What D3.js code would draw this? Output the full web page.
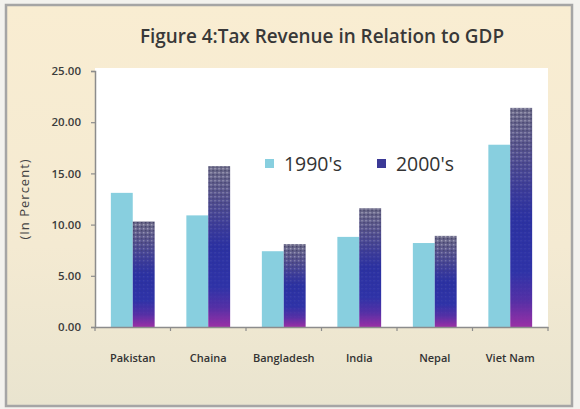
<!DOCTYPE html>
<html>
<head>
<meta charset="utf-8">
<script src="https://cdn.jsdelivr.net/npm/d3@7"></script>
<style>
  html, body { margin: 0; padding: 0; background: #f3f2ee; }
  svg { display: block; }
</style>
</head>
<body>
<svg id="chart" width="580" height="409"></svg>
<script>
// ---- data ----
const categories = ["Pakistan", "Chaina", "Bangladesh", "India", "Nepal", "Viet Nam"];
const seriesNames = ["1990's", "2000's"];
const values1990s = [13.1, 10.9, 7.4, 8.8, 8.2, 17.8];
const values2000s = [10.3, 15.7, 8.1, 11.6, 8.9, 21.4];
const yTicks = [0, 5, 10, 15, 20, 25];
const titleText = "Figure 4:Tax Revenue in Relation to GDP";
const yTitle = "(In Percent)";

const svg = d3.select("#chart");
const defs = svg.append("defs");

// background gradient
const bg = defs.append("linearGradient").attr("id", "bgGrad").attr("x1", 0).attr("y1", 0).attr("x2", 0).attr("y2", 1);
bg.append("stop").attr("offset", 0).attr("stop-color", "#f9edd2");
bg.append("stop").attr("offset", 0.6).attr("stop-color", "#f4ead2");
bg.append("stop").attr("offset", 1).attr("stop-color", "#e9e4cf");

// 2000's bar gradient
const g2 = defs.append("linearGradient").attr("id", "bar2Grad").attr("x1", 0).attr("y1", 0).attr("x2", 0).attr("y2", 1);
[[0, "#6e6c8a"], [0.18, "#56528e"], [0.38, "#3a3a9a"], [0.5, "#2b31a2"], [0.75, "#2f33a8"], [0.88, "#5530a6"], [1, "#9a30a6"]]
  .forEach(([o, c]) => g2.append("stop").attr("offset", o).attr("stop-color", c));

// dotted texture pattern
const pat = defs.append("pattern").attr("id", "dots").attr("patternUnits", "userSpaceOnUse")
  .attr("width", 4).attr("height", 4);
pat.append("rect").attr("x", 0).attr("y", 0).attr("width", 1.5).attr("height", 1.5).attr("fill", "#c0c0d0");
pat.append("rect").attr("x", 2).attr("y", 2).attr("width", 1.5).attr("height", 1.5).attr("fill", "#34345a");

const mg = defs.append("linearGradient").attr("id", "maskGrad").attr("x1", 0).attr("y1", 0).attr("x2", 0).attr("y2", 1);
mg.append("stop").attr("offset", 0).attr("stop-color", "#fff").attr("stop-opacity", 0.75);
mg.append("stop").attr("offset", 0.4).attr("stop-color", "#fff").attr("stop-opacity", 0.15);
mg.append("stop").attr("offset", 1).attr("stop-color", "#fff").attr("stop-opacity", 0.0);
const mask = defs.append("mask").attr("id", "dotMask").attr("maskContentUnits", "objectBoundingBox");
mask.append("rect").attr("x", 0).attr("y", 0).attr("width", 1).attr("height", 1).attr("fill", "url(#maskGrad)");

// frame
svg.append("rect").attr("x", 6).attr("y", 5).attr("width", 566).attr("height", 401)
  .attr("fill", "url(#bgGrad)").attr("stroke", "#a5a5a5").attr("stroke-width", 2.5);

// scales
const plot = { left: 95, right: 548, top: 71, bottom: 327 };
const x0 = d3.scaleBand().domain(categories).range([plot.left, plot.right]).paddingInner(0.42).paddingOuter(0.21);
const x1 = d3.scaleBand().domain(seriesNames).range([0, x0.bandwidth()]).padding(0);
const y = d3.scaleLinear().domain([0, 25]).range([plot.bottom, plot.top]);

// plot area
svg.append("rect").attr("x", plot.left).attr("y", plot.top - 3)
  .attr("width", plot.right - plot.left).attr("height", plot.bottom - plot.top + 3)
  .attr("fill", "#ffffff");

// title
const title = svg.append("text").attr("x", 322).attr("y", 43).attr("text-anchor", "middle")
  .attr("font-family", "Open Sans").attr("font-size", 20).attr("font-weight", 600).attr("fill", "#383838")
  .text(titleText);
title.attr("textLength", 364).attr("lengthAdjust", "spacingAndGlyphs");

// y axis
const yAxis = svg.append("g").attr("transform", `translate(${plot.left},0)`)
  .call(d3.axisLeft(y).tickValues(yTicks).tickFormat(d3.format(".2f")).tickSize(4).tickPadding(10));
yAxis.select(".domain").attr("stroke", "#8c8c8c").attr("stroke-width", 1.5);
yAxis.selectAll(".tick line").attr("stroke", "#8c8c8c").attr("stroke-width", 1.2);
yAxis.selectAll(".tick text").attr("font-family", "Open Sans").attr("font-size", 11.5)
  .attr("font-weight", 600).attr("fill", "#3c3c3c");

// y title
svg.append("text").attr("transform", `translate(29,${(plot.top + plot.bottom) / 2}) rotate(-90)`)
  .attr("text-anchor", "middle").attr("font-family", "Open Sans").attr("font-size", 13)
  .attr("letter-spacing", 1).attr("fill", "#444").text(yTitle);

// bars
const groups = svg.append("g").selectAll("g").data(categories).join("g")
  .attr("transform", d => `translate(${x0(d)},0)`);

groups.append("rect")
  .attr("x", x1(seriesNames[0])).attr("width", x1.bandwidth())
  .attr("y", (d, i) => y(values1990s[i])).attr("height", (d, i) => y(0) - y(values1990s[i]))
  .attr("fill", "#88cfdf");

groups.append("rect")
  .attr("x", x1(seriesNames[1])).attr("width", x1.bandwidth())
  .attr("y", (d, i) => y(values2000s[i])).attr("height", (d, i) => y(0) - y(values2000s[i]))
  .attr("fill", "url(#bar2Grad)");

groups.append("rect")
  .attr("x", x1(seriesNames[1])).attr("width", x1.bandwidth())
  .attr("y", (d, i) => y(values2000s[i])).attr("height", (d, i) => y(0) - y(values2000s[i]))
  .attr("fill", "url(#dots)").attr("mask", "url(#dotMask)");

// x axis
const xAxis = svg.append("g").attr("transform", `translate(0,${plot.bottom})`)
  .call(d3.axisBottom(x0).tickSize(0).tickPadding(27));
xAxis.select(".domain").attr("stroke", "#8c8c8c").attr("stroke-width", 1.5);
xAxis.selectAll(".tick text").attr("font-family", "Open Sans").attr("font-size", 11)
  .attr("font-weight", 600).attr("fill", "#333");
// boundary ticks
const bounds = categories.map(c => x0(c) - x0.step() * x0.paddingInner() / 2).concat([plot.right]);
xAxis.selectAll(".btick").data(bounds).join("line").attr("class", "btick")
  .attr("x1", d => d).attr("x2", d => d).attr("y1", 0).attr("y2", 4)
  .attr("stroke", "#8c8c8c").attr("stroke-width", 1.2);

// legend
const legend = svg.append("g");
const legendItems = [
  { name: seriesNames[0], x: 265, fill: "#88cfdf" },
  { name: seriesNames[1], x: 377, fill: "#3b3996" }
];
legendItems.forEach(it => {
  legend.append("rect").attr("x", it.x).attr("y", 159).attr("width", 9).attr("height", 9).attr("fill", it.fill);
  legend.append("text").attr("x", it.x + 19).attr("y", 171).attr("font-family", "Open Sans")
    .attr("font-size", 20).attr("fill", "#333").attr("textLength", 58).attr("lengthAdjust", "spacingAndGlyphs")
    .text(it.name);
});
</script>
</body>
</html>
